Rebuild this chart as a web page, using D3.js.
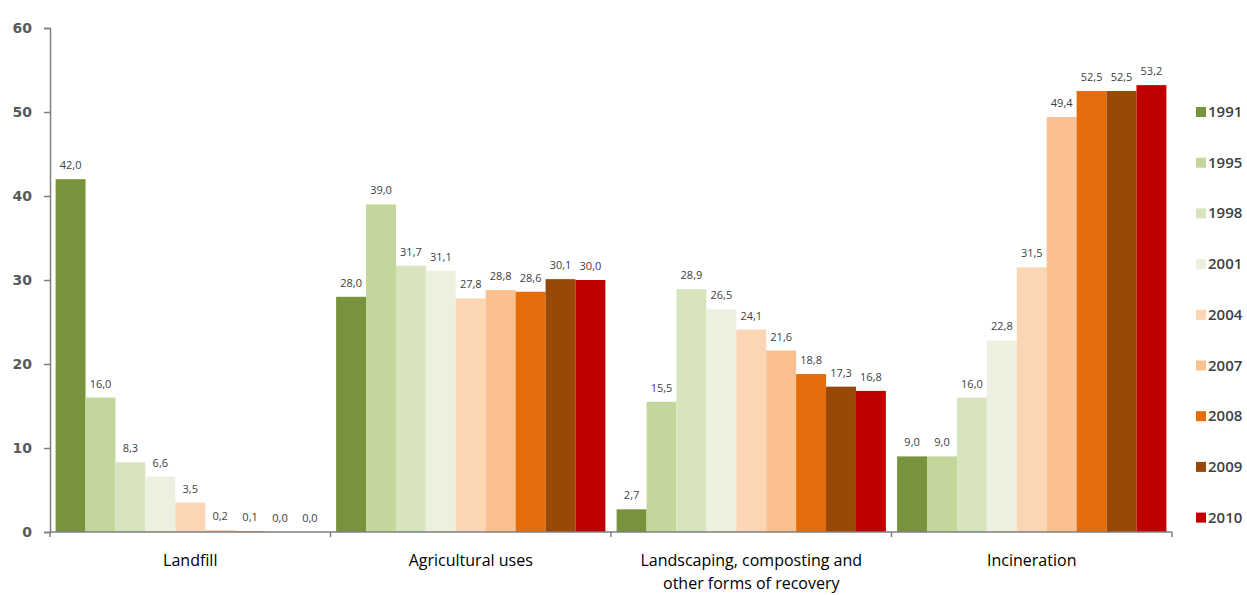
<!DOCTYPE html>
<html><head><meta charset="utf-8">
<script src="https://cdn.jsdelivr.net/npm/d3@7"></script>
<style>body{margin:0;background:#fff}svg{display:block}</style>
</head><body><svg id="c" width="1247" height="595"></svg>
<script>
const categories = ["Landfill", "Agricultural uses", "Landscaping, composting and|other forms of recovery", "Incineration"];
const years = ["1991","1995","1998","2001","2004","2007","2008","2009","2010"];
const colors = ["#77933C","#C3D69B","#D7E4BD","#EBF1DE","#FCD5B5","#FAC090","#E46C0A","#984807","#C00000"];
const landfill = [42.0,16.0,8.3,6.6,3.5,0.2,0.1,0.0,0.0];
const agricultural = [28.0,39.0,31.7,31.1,27.8,28.8,28.6,30.1,30.0];
const landscaping = [2.7,15.5,28.9,26.5,24.1,21.6,18.8,17.3,16.8];
const incineration = [9.0,9.0,16.0,22.8,31.5,49.4,52.5,52.5,53.2];
const yTicks = [0,10,20,30,40,50,60];
const seriesByCat = [landfill, agricultural, landscaping, incineration];

const svg = d3.select("#c");
const x0 = d3.scaleBand().domain(categories).range([50,1172]).paddingInner(0.04).paddingOuter(0.02);
const x1 = d3.scaleBand().domain(years).range([0, x0.bandwidth()]);
const y = d3.scaleLinear().domain([0,60]).range([532,28]);
const color = d3.scaleOrdinal().domain(years).range(colors);
const fmt = v => v.toFixed(1).replace(".", ",");

// bars
categories.forEach((c, ci) => {
  const g = svg.append("g").attr("transform", `translate(${x0(c)},0)`);
  const data = years.map((yr, i) => ({yr, v: seriesByCat[ci][i]}));
  g.selectAll("rect").data(data).join("rect")
    .attr("x", d => x1(d.yr)).attr("width", x1.bandwidth())
    .attr("y", d => y(d.v)).attr("height", d => y(0) - y(d.v))
    .attr("fill", d => color(d.yr));
  g.selectAll("text").data(data).join("text")
    .attr("x", d => x1(d.yr) + x1.bandwidth()/2)
    .attr("y", d => y(d.v) - 10)
    .attr("text-anchor", "middle")
    .attr("font-family", "Open Sans, sans-serif")
    .attr("font-size", 11).attr("fill", "#404040")
    .text(d => fmt(d.v));
});

// y axis
const yAxis = svg.append("g").attr("transform", "translate(50,0)")
  .call(d3.axisLeft(y).tickValues(yTicks).tickSize(6).tickFormat(d => d));
yAxis.select(".domain").attr("stroke", "#7f7f7f").attr("stroke-width", 1.5);
yAxis.selectAll(".tick line").attr("stroke", "#7f7f7f").attr("stroke-width", 1.5);
yAxis.selectAll(".tick text").attr("font-family", "DejaVu Sans, sans-serif").attr("font-size", 14)
  .attr("font-weight", "bold").attr("fill", "#595959").attr("x", -18);

// x axis line with boundary ticks
const bounds = [50].concat(categories.slice(1).map(c => x0(c) - x0.step()*x0.paddingInner()/2), [1172]);
svg.append("line").attr("x1", 50).attr("x2", 1172).attr("y1", y(0)).attr("y2", y(0))
  .attr("stroke", "#7f7f7f").attr("stroke-width", 1.5);
svg.selectAll(".bt").data(bounds).join("line").attr("class","bt")
  .attr("x1", d => d).attr("x2", d => d).attr("y1", y(0)).attr("y2", y(0)+5)
  .attr("stroke", "#7f7f7f").attr("stroke-width", 1.5);

// category labels
categories.forEach(c => {
  const lines = c.split("|");
  const t = svg.append("text").attr("text-anchor", "middle")
    .attr("font-family", "Open Sans, sans-serif").attr("font-size", 16).attr("fill", "#000");
  lines.forEach((l, i) => t.append("tspan").attr("x", x0(c) + x0.bandwidth()/2).attr("y", 566 + i*23).text(l));
});

// legend
const leg = svg.append("g");
years.forEach((yr, i) => {
  const yy = 112 + i*50.7;
  leg.append("rect").attr("x", 1196).attr("y", yy - 5).attr("width", 10).attr("height", 10).attr("fill", color(yr));
  leg.append("text").attr("x", 1208).attr("y", yy + 5).attr("font-family", "Open Sans, sans-serif")
    .attr("font-size", 15).attr("font-weight", 600).attr("fill", "#404040").text(yr);
});
</script></body></html>
